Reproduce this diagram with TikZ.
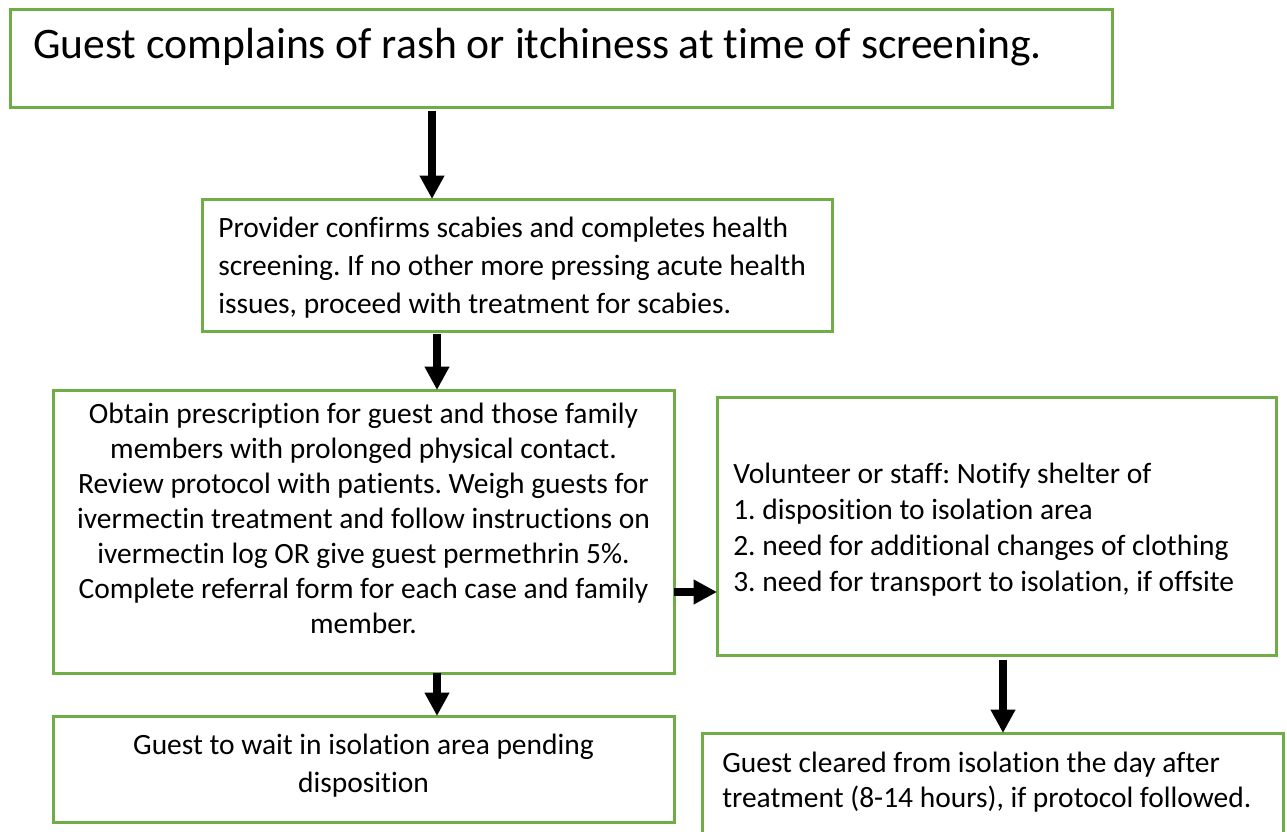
\documentclass[tikz,border=0pt]{standalone}
\usepackage{fontspec}
\setmainfont{Carlito}[Ligatures={NoCommon}]
\usetikzlibrary{arrows.meta,fit}
\definecolor{boxgreen}{HTML}{70AD47}
\newcommand{\mystrut}{\rule{0pt}{20pt}}
\frenchspacing
\begin{document}
\begin{tikzpicture}[x=0.75pt,y=-0.75pt,
  box/.style={draw=boxgreen, line width=2.25pt, rectangle, inner sep=0pt, outer sep=0pt},
  body/.style={inner sep=0pt, font=\fontsize{22.1}{26.25}\selectfont},
  title/.style={inner sep=0pt, font=\fontsize{32.7}{39}\selectfont},
  arr/.style={line width=6pt, -{Triangle[width=17.5pt,length=17.5pt]}},
]
\useasboundingbox (0,0) rectangle (1287,831);
% boxes
\node[box, fit={(10,10) (1112,108)}] (b1) {};
\node[box, fit={(202,199) (832,331)}] (b2) {};
\node[box, fit={(53,390) (674,673)}] (b3) {};
\node[box, fit={(717,397) (1276,655)}] (b4) {};
\node[box, fit={(53,716) (674,822)}] (b5) {};
\node[box, fit={(702,733) (1283,860)}] (b6) {};
% texts
\node[title, anchor=base west] (t1) at (33,59) {Guest complains of rash or itchiness at time of screening.};
\node[body, anchor=north west, align=flush left, font=\fontsize{22.1}{28.5}\selectfont] (t2) at (218,211)
  {\mystrut Provider confirms scabies and completes health\\
   screening. If no other more pressing acute health\\
   issues, proceed with treatment for scabies.};
\node[body, anchor=north, align=flush center, text width=480pt] (t3) at (363.5,397)
  {\mystrut Obtain prescription for guest and those family\\
   members with prolonged physical contact.\\
   Review protocol with patients. Weigh guests for\\
   ivermectin treatment and follow instructions on\\
   ivermectin log OR give guest permethrin 5\%.\\
   Complete referral form for each case and family\\
   member.};
\node[body, anchor=north west, align=flush left, font=\fontsize{22.1}{27}\selectfont] (t4) at (733,457)
  {\mystrut Volunteer or staff: Notify shelter of\\
   1. disposition to isolation area\\
   2. need for additional changes of clothing\\
   3. need for transport to isolation, if offsite};
\node[body, anchor=north, align=flush center, text width=480pt, font=\fontsize{22.1}{28.5}\selectfont] (t5) at (363.5,728)
  {\mystrut Guest to wait in isolation area pending\\
   disposition};
\node[body, anchor=north west, align=flush left] (t6) at (722,746)
  {\mystrut Guest cleared from isolation the day after\\
   treatment (8-14 hours), if protocol followed.};
% arrow guide coordinates
\coordinate (xa) at (432,0);
\coordinate (xb) at (437,0);
\coordinate (xc) at (1003,0);
\coordinate (ya) at (0,592);
% connectors
\draw[arr, shorten <=2pt] (b1.south -| xa) -- (b2.north -| xa);
\draw[arr, shorten <=2.5pt] (b2.south -| xb) -- (b3.north -| xb);
\draw[arr] (b3.south -| xb) -- (b5.north -| xb);
\draw[arr] (b3.east |- ya) -- (b4.west |- ya);
\draw[arr, shorten <=3.5pt] (b4.south -| xc) -- (b6.north -| xc);
\end{tikzpicture}
\end{document}
